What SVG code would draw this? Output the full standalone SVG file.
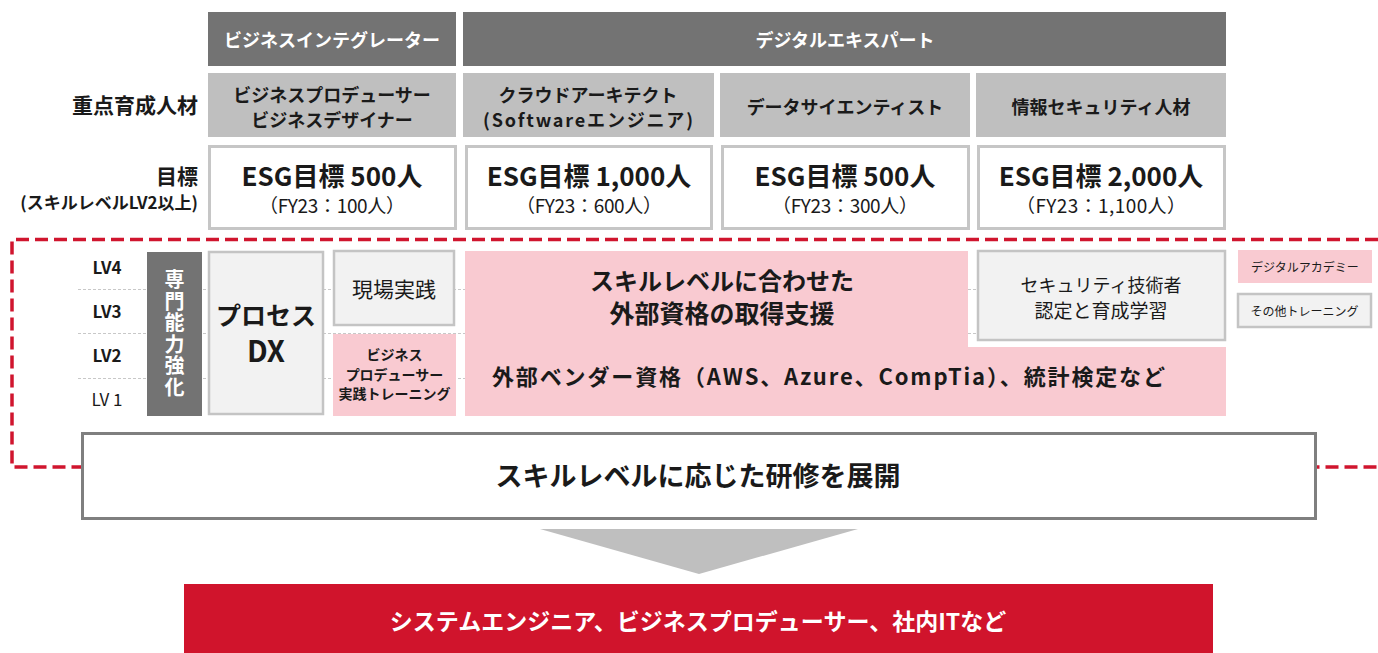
<svg xmlns="http://www.w3.org/2000/svg" width="1378" height="653" viewBox="0 0 1378 653">
<style>
text{font-family:"Noto Sans CJK JP","Noto Sans",sans-serif;fill:#1a1a1a}
.b{font-weight:bold}
.w{fill:#ffffff}
.m{text-anchor:middle}
.e{text-anchor:end}
.hd{fill:#737373}
.lg{fill:#bfbfbf}
.goal{fill:#ffffff;stroke:#c6c6c6;stroke-width:3}
.gb{fill:#f2f2f2;stroke:#c4c4c4;stroke-width:2.5}
.pk{fill:#f9cad1}
.grid{stroke:#c8c8c8;stroke-width:1;stroke-dasharray:3 2;fill:none}
</style>

<g id="frame">
<path d="M1378,239.5 H12 V467 H1378" fill="none" stroke="#d0152e" stroke-width="3.5" stroke-dasharray="13 6"/>
</g>

<g id="grid-lines">
<line class="grid" x1="78" y1="289.5" x2="1226" y2="289.5"/>
<line class="grid" x1="78" y1="333.5" x2="1226" y2="333.5"/>
<line class="grid" x1="78" y1="378.5" x2="1226" y2="378.5"/>
</g>

<g id="row-labels">
<text class="b e" x="198" y="113" font-size="21">重点育成人材</text>
<text class="b e" x="198" y="184" font-size="21">目標</text>
<text class="b e" x="198" y="209" font-size="17">(スキルレベルLV2以上)</text>
</g>

<g id="hdr-bi">
<rect class="hd" x="208" y="12" width="248" height="54"/>
<text class="b w m" x="332" y="47" font-size="18">ビジネスインテグレーター</text>
</g>
<g id="hdr-de">
<rect class="hd" x="463" y="12" width="763" height="54"/>
<text class="b w m" x="845" y="47" font-size="18">デジタルエキスパート</text>
</g>

<g id="role-bp">
<rect class="lg" x="208" y="73" width="248" height="64"/>
<text class="b m" x="332" y="102" font-size="18">ビジネスプロデューサー</text>
<text class="b m" x="332" y="127" font-size="18">ビジネスデザイナー</text>
</g>
<g id="role-ca">
<rect class="lg" x="463" y="73" width="251" height="64"/>
<text class="b m" x="588" y="102" font-size="18">クラウドアーキテクト</text>
<text class="b m" x="588" y="127" font-size="18" textLength="210">(Softwareエンジニア)</text>
</g>
<g id="role-ds">
<rect class="lg" x="720" y="73" width="250" height="64"/>
<text class="b m" x="845" y="114" font-size="18">データサイエンティスト</text>
</g>
<g id="role-sec">
<rect class="lg" x="976" y="73" width="250" height="64"/>
<text class="b m" x="1101" y="114" font-size="18">情報セキュリティ人材</text>
</g>

<g id="goal-bp">
<rect class="goal" x="209.5" y="146.5" width="246" height="82"/>
<text class="b m" x="332" y="186" font-size="26">ESG目標 500人</text>
<text class="m" x="332" y="213" font-size="19" textLength="146">（FY23：100人）</text>
</g>
<g id="goal-ca">
<rect class="goal" x="466.5" y="146.5" width="245" height="82"/>
<text class="b m" x="589" y="186" font-size="26">ESG目標 1,000人</text>
<text class="m" x="589" y="213" font-size="19" textLength="146">（FY23：600人）</text>
</g>
<g id="goal-ds">
<rect class="goal" x="722.5" y="146.5" width="246" height="82"/>
<text class="b m" x="845" y="186" font-size="26">ESG目標 500人</text>
<text class="m" x="845" y="213" font-size="19" textLength="146">（FY23：300人）</text>
</g>
<g id="goal-sec">
<rect class="goal" x="978.5" y="146.5" width="246" height="82"/>
<text class="b m" x="1101" y="186" font-size="26">ESG目標 2,000人</text>
<text class="m" x="1101" y="213" font-size="19" textLength="170">（FY23：1,100人）</text>
</g>

<g id="levels">
<text class="b m" x="107" y="274" font-size="17">LV4</text>
<text class="b m" x="107" y="318" font-size="17">LV3</text>
<text class="b m" x="107" y="362" font-size="17">LV2</text>
<text class="m" x="107" y="406" font-size="17">LV 1</text>
</g>

<g id="specialty">
<rect class="hd" x="147" y="252" width="55" height="164"/>
<text class="b w m" x="174.5" y="334" font-size="20" writing-mode="vertical-rl" letter-spacing="1.5">専門能力強化</text>
</g>

<g id="process-dx">
<rect class="gb" x="209" y="252" width="114" height="162"/>
<text class="b m" x="266" y="325" font-size="25">プロセス</text>
<text class="b m" x="266" y="362" font-size="29">DX</text>
</g>

<g id="genba">
<rect class="gb" x="334" y="251" width="120" height="74"/>
<text class="m" x="394" y="297" font-size="21">現場実践</text>
</g>

<g id="bp-training">
<rect class="pk" x="333" y="334" width="123" height="82"/>
<text class="b m" x="394.5" y="360" font-size="14">ビジネス</text>
<text class="b m" x="394.5" y="380" font-size="14">プロデューサー</text>
<text class="b m" x="394.5" y="399" font-size="14">実践トレーニング</text>
</g>

<g id="external-cert">
<path class="pk" d="M465,251 H968 V347 H1226 V416 H465 Z"/>
<text class="b m" x="722" y="290" font-size="24">スキルレベルに合わせた</text>
<text class="b m" x="722" y="323" font-size="25">外部資格の取得支援</text>
<text class="b" x="492" y="385" font-size="22" textLength="673">外部ベンダー資格（AWS、Azure、CompTia）、統計検定など</text>
</g>

<g id="security-training">
<rect class="gb" x="978" y="251" width="247" height="89"/>
<text class="m" x="1101" y="292" font-size="18">セキュリティ技術者</text>
<text class="m" x="1101" y="318" font-size="19">認定と育成学習</text>
</g>

<g id="legend">
<rect class="pk" x="1238" y="250" width="134" height="33"/>
<text class="m" x="1305" y="272" font-size="12">デジタルアカデミー</text>
<rect class="gb" x="1238" y="294" width="133" height="33"/>
<text class="m" x="1304.5" y="316" font-size="12">その他トレーニング</text>
</g>

<g id="deploy">
<rect x="82.5" y="433.5" width="1233" height="85" fill="#ffffff" stroke="#7f7f7f" stroke-width="3"/>
<text class="b m" x="698" y="486" font-size="27">スキルレベルに応じた研修を展開</text>
</g>

<g id="connectors">
<polygon points="540,529 858,529 699,574" fill="#bfbfbf"/>
</g>

<g id="result">
<rect x="184" y="584" width="1029" height="69" fill="#d0142c"/>
<text class="b w m" x="698" y="630" font-size="23">システムエンジニア、ビジネスプロデューサー、社内ITなど</text>
</g>
</svg>
